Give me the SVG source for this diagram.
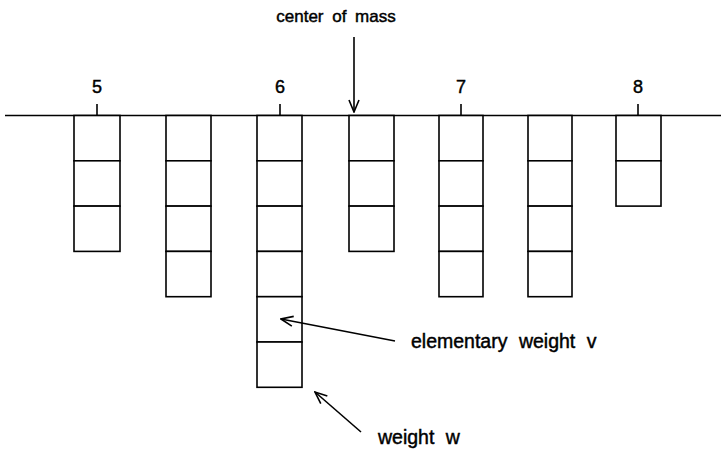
<svg xmlns="http://www.w3.org/2000/svg" width="721" height="450" viewBox="0 0 721 450">
<style>
.ln{stroke:#000;stroke-width:1.6;fill:none}
.bx{stroke:#000;stroke-width:1.6;fill:#fff}
.t{font-family:"Liberation Sans",Arial,sans-serif;fill:#000;stroke:#000;stroke-width:0.45}
.top{font-size:17px;word-spacing:4px}
.num{font-size:18px}
.lab{font-size:19.5px;word-spacing:6px}
</style>
<defs>
<marker id="ah" viewBox="0 0 14 12" refX="13" refY="6" markerWidth="14" markerHeight="12" markerUnits="userSpaceOnUse" orient="auto">
<path d="M1,1 L13,6 L1,11" fill="none" stroke="#000" stroke-width="1.6"/>
</marker>
</defs>
<g id="axis">
<line class="ln" x1="5" y1="115.5" x2="721" y2="115.5"/>
<line class="ln" x1="97" y1="104" x2="97" y2="115.5"/>
<line class="ln" x1="280" y1="104" x2="280" y2="115.5"/>
<line class="ln" x1="461" y1="104" x2="461" y2="115.5"/>
<line class="ln" x1="638" y1="104" x2="638" y2="115.5"/>
<text class="t num" x="97" y="93" text-anchor="middle">5</text>
<text class="t num" x="280" y="93" text-anchor="middle">6</text>
<text class="t num" x="461" y="93" text-anchor="middle">7</text>
<text class="t num" x="638" y="93" text-anchor="middle">8</text>
</g>
<g id="col1">
<rect class="bx" x="74" y="115.5" width="46" height="45.3"/>
<rect class="bx" x="74" y="160.8" width="46" height="45.3"/>
<rect class="bx" x="74" y="206.1" width="46" height="45.3"/>
</g>
<g id="col2">
<rect class="bx" x="166" y="115.5" width="45" height="45.3"/>
<rect class="bx" x="166" y="160.8" width="45" height="45.3"/>
<rect class="bx" x="166" y="206.1" width="45" height="45.3"/>
<rect class="bx" x="166" y="251.4" width="45" height="45.3"/>
</g>
<g id="col3">
<rect class="bx" x="257" y="115.5" width="45" height="45.3"/>
<rect class="bx" x="257" y="160.8" width="45" height="45.3"/>
<rect class="bx" x="257" y="206.1" width="45" height="45.3"/>
<rect class="bx" x="257" y="251.4" width="45" height="45.3"/>
<rect class="bx" x="257" y="296.7" width="45" height="45.3"/>
<rect class="bx" x="257" y="342" width="45" height="45.3"/>
</g>
<g id="col4">
<rect class="bx" x="349" y="115.5" width="45" height="45.3"/>
<rect class="bx" x="349" y="160.8" width="45" height="45.3"/>
<rect class="bx" x="349" y="206.1" width="45" height="45.3"/>
</g>
<g id="col5">
<rect class="bx" x="439" y="115.5" width="44" height="45.3"/>
<rect class="bx" x="439" y="160.8" width="44" height="45.3"/>
<rect class="bx" x="439" y="206.1" width="44" height="45.3"/>
<rect class="bx" x="439" y="251.4" width="44" height="45.3"/>
</g>
<g id="col6">
<rect class="bx" x="528" y="115.5" width="44" height="45.3"/>
<rect class="bx" x="528" y="160.8" width="44" height="45.3"/>
<rect class="bx" x="528" y="206.1" width="44" height="45.3"/>
<rect class="bx" x="528" y="251.4" width="44" height="45.3"/>
</g>
<g id="col7">
<rect class="bx" x="616" y="115.5" width="45" height="45.3"/>
<rect class="bx" x="616" y="160.8" width="45" height="45.3"/>
</g>
<g id="labels">
<text class="t top" x="336" y="22" text-anchor="middle">center of mass</text>
<text class="t lab" x="411" y="348">elementary weight v</text>
<text class="t lab" x="378" y="444">weight w</text>
</g>
<g id="connectors">
<line class="ln" x1="354" y1="37" x2="354" y2="112" marker-end="url(#ah)"/>
<line class="ln" x1="395" y1="341" x2="281" y2="319" marker-end="url(#ah)"/>
<line class="ln" x1="361" y1="432" x2="315" y2="392" marker-end="url(#ah)"/>
</g>
</svg>
